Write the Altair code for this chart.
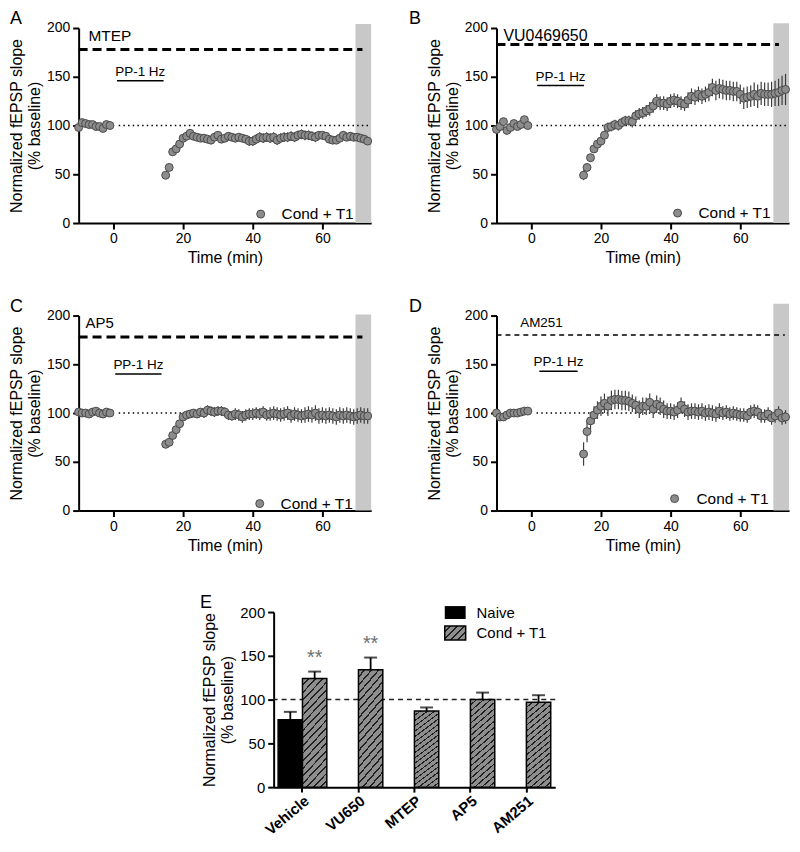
import altair as alt
import pandas as pd

FONT = "Liberation Sans"

# ---------------- data ----------------
base_time = [-10, -9, -8, -7, -6, -5, -4, -3, -2, -1]
post_time = list(range(15, 74))

a_base = [98, 103, 102, 101, 101, 99, 99, 97, 101, 100]
a_base_err = [2, 2, 2, 2, 2, 2, 2, 2, 2, 2]
a_post = [49, 57, 73, 76, 81, 87, 89, 92, 89, 88,
          87, 87, 86, 85, 88, 90, 86, 87, 89, 88,
          87, 88, 87, 86, 84, 84, 86, 88, 87, 88,
          87, 88, 85, 87, 88, 88, 89, 88, 90, 91,
          90, 90, 89, 88, 90, 90, 89, 86, 85, 85,
          87, 90, 88, 89, 88, 88, 87, 86, 84]
a_post_err = [2, 3, 3, 3, 3, 3, 3, 3, 3, 3,
              3, 3, 3, 3, 3, 3, 4, 4, 4, 4,
              4, 4, 4, 4, 5, 5, 5, 5, 5, 5,
              5, 5, 5, 5, 5, 5, 5, 5, 5, 5,
              5, 5, 5, 5, 4, 4, 4, 4, 4, 4,
              4, 4, 4, 4, 4, 4, 4, 4, 3]

b_base = [96, 99, 104, 95, 98, 102, 99, 101, 106, 100]
b_base_err = [3, 3, 3, 3, 3, 3, 3, 3, 3, 3]
b_post = [49, 57, 67, 76, 81, 84, 90, 98, 99, 101,
          100, 103, 105, 105, 104, 110, 112, 113, 115, 117,
          120, 125, 123, 123, 122, 125, 126, 125, 123, 122,
          126, 130, 129, 132, 130, 132, 134, 139, 136, 138,
          137, 136, 136, 135, 135, 132, 128, 129, 130, 132,
          130, 133, 132, 132, 132, 133, 134, 136, 137]
b_post_err = [5, 4, 4, 4, 4, 4, 5, 5, 5, 5,
              5, 5, 5, 5, 6, 6, 6, 6, 6, 7,
              7, 7, 7, 7, 7, 7, 7, 7, 7, 7,
              8, 8, 8, 8, 8, 8, 9, 9, 10, 10,
              10, 10, 10, 10, 10, 10, 11, 11, 11, 12,
              12, 12, 12, 12, 13, 13, 14, 15, 16]

c_base = [101, 100, 100, 99, 101, 102, 100, 99, 101, 100]
c_base_err = [2, 2, 2, 2, 2, 2, 2, 2, 2, 2]
c_post = [68, 70, 77, 83, 89, 96, 98, 99, 100, 99,
          101, 100, 103, 102, 101, 102, 102, 101, 98, 97,
          99, 98, 96, 98, 99, 99, 100, 99, 101, 98,
          99, 100, 99, 98, 99, 100, 97, 99, 98, 97,
          98, 99, 98, 100, 97, 98, 97, 98, 97, 96,
          98, 97, 98, 97, 96, 97, 98, 97, 97]
c_post_err = [4, 4, 4, 4, 4, 4, 4, 4, 4, 4,
              4, 5, 5, 5, 5, 5, 5, 5, 5, 5,
              6, 6, 6, 6, 6, 6, 6, 6, 6, 6,
              7, 7, 7, 7, 7, 7, 7, 7, 7, 7,
              8, 8, 8, 8, 8, 8, 8, 8, 8, 8,
              8, 8, 8, 8, 8, 8, 8, 8, 8]

d_base = [100, 96, 96, 98, 100, 100, 100, 101, 102, 102]
d_base_err = [2, 2, 2, 2, 2, 2, 2, 2, 2, 2]
d_post = [58, 81, 92, 98, 103, 107, 110, 107, 113, 114,
          114, 113, 113, 112, 110, 108, 104, 107, 107, 111,
          104, 109, 107, 104, 102, 102, 101, 103, 108, 104,
          101, 102, 102, 101, 102, 100, 101, 100, 99, 102,
          100, 101, 99, 100, 99, 98, 98, 97, 101, 102,
          101, 97, 97, 99, 95, 97, 100, 95, 96]
d_post_err = [12, 11, 9, 9, 9, 10, 10, 10, 10, 10,
              10, 10, 10, 10, 9, 9, 9, 9, 9, 9,
              9, 9, 9, 9, 8, 8, 8, 8, 8, 8,
              8, 8, 8, 8, 8, 8, 8, 8, 8, 8,
              7, 7, 7, 7, 7, 7, 7, 7, 7, 7,
              7, 7, 7, 7, 7, 7, 7, 7, 7]

e_cats = ["Vehicle", "VU650", "MTEP", "AP5", "AM251"]
e_groups = ["Naive", "Cond + T1"]
naive_mean = [77]
naive_sem = [9]
cond_mean = [124, 134, 87, 100, 97]
cond_sem = [8, 14, 4, 8, 8]
cond_sig = ["**", "**", "", "", ""]

# ---------------- styling helpers ----------------
GRAY = "#8e8e8e"
DARK = "#202020"


def hatch(x2, y2, period, frac=0.25):
    stops = []
    t = 0.0
    while t < 0.999:
        b = round(min(t + period * (1 - frac), 1.0), 4)
        c = round(min(t + period, 1.0), 4)
        stops += [{"offset": round(t, 4), "color": GRAY}, {"offset": b, "color": GRAY},
                  {"offset": b, "color": DARK}, {"offset": c, "color": DARK}]
        t += period
    return {"gradient": "linear", "x1": 0, "y1": 0, "x2": x2, "y2": y2, "stops": stops}


def panel_letter(letter, px):
    return alt.Chart(pd.DataFrame({"label": [letter]})).mark_text(
        align="left", baseline="alphabetic", fontSize=18, color="black").encode(
        x=alt.value(px), y=alt.value(-4), text="label:N")


W, H = 294, 196


def time_panel(letter, lx, drug, drug_x, drug_size, dash_y, dash_end, dash_w, dash_pat,
               pp_x0, pp_x1, pp_y, band_top, leg, base, base_err, post, post_err):
    v = base + post
    e = base_err + post_err
    df = pd.DataFrame({"t": base_time + post_time, "v": v,
                       "lo": [a - b for a, b in zip(v, e)],
                       "hi": [a + b for a, b in zip(v, e)]})
    xs = alt.Scale(domain=[-10, 74], nice=False, zero=False)
    ys = alt.Scale(domain=[0, 200], nice=False)
    xax = alt.Axis(values=[0, 20, 40, 60], title="Time (min)")
    yax = alt.Axis(values=[0, 50, 100, 150, 200], title=["Normalized fEPSP slope", "(% baseline)"])

    def X(f):
        return alt.X(f, type="quantitative", scale=xs, axis=xax)

    def Y(f):
        return alt.Y(f, type="quantitative", scale=ys, axis=yax)

    band = alt.Chart(pd.DataFrame({"t": [69.5], "t2": [74], "v": [0], "v2": [band_top]})).mark_rect(
        color="#c8c8c8").encode(x=X("t"), x2=alt.X2("t2"), y=Y("v"), y2=alt.Y2("v2"))
    dash = alt.Chart(pd.DataFrame({"t": [-10], "t2": [dash_end], "v": [dash_y]})).mark_rule(
        color="black", strokeWidth=dash_w, strokeDash=dash_pat).encode(x=X("t"), x2=alt.X2("t2"), y=Y("v"))
    dotted = alt.Chart(pd.DataFrame({"t": [1.5], "t2": [74], "v": [100]})).mark_rule(
        color="black", strokeWidth=1.5, strokeDash=[1.5, 3.2]).encode(x=X("t"), x2=alt.X2("t2"), y=Y("v"))
    ppl = alt.Chart(pd.DataFrame({"t": [pp_x0], "t2": [pp_x1], "v": [pp_y]})).mark_rule(
        color="black", strokeWidth=1.5).encode(x=X("t"), x2=alt.X2("t2"), y=Y("v"))
    ppt = alt.Chart(pd.DataFrame({"t": [(pp_x0 + pp_x1) / 2], "v": [pp_y + 2], "label": ["PP-1 Hz"]})).mark_text(
        baseline="bottom", fontSize=13.5, color="black").encode(x=X("t"), y=Y("v"), text="label:N")
    drugt = alt.Chart(pd.DataFrame({"t": [drug_x], "v": [192], "label": [drug]})).mark_text(
        align="left", baseline="middle", fontSize=drug_size, color="black").encode(x=X("t"), y=Y("v"), text="label:N")
    err = alt.Chart(df).mark_rule(color="#3c3c3c", strokeWidth=1.2).encode(x=X("t"), y=Y("lo"), y2=alt.Y2("hi"))
    pts = alt.Chart(df).mark_circle(size=64, color="#8c8c8c", stroke="#4a4a4a", strokeWidth=1,
                                    opacity=1).encode(x=X("t"), y=Y("v"))
    legdf = pd.DataFrame({"label": ["Cond + T1"]})
    legp = alt.Chart(legdf).mark_circle(size=64, color="#8c8c8c", stroke="#4a4a4a", strokeWidth=1,
                                        opacity=1).encode(x=alt.value(leg[0]), y=alt.value(leg[1]))
    legt = alt.Chart(legdf).mark_text(align="left", baseline="middle", fontSize=15.5, color="black").encode(
        x=alt.value(leg[2]), y=alt.value(leg[1]), text="label:N")
    return alt.layer(band, dash, dotted, ppl, ppt, drugt, err, pts, legp, legt,
                     panel_letter(letter, lx)).properties(width=W, height=H)


A = time_panel("A", -69, "MTEP", -7.2, 15.5, 178, 71.5, 3, [9, 5], 1.0, 14.4, 146, 204, (183, 187, 204),
               a_base, a_base_err, a_post, a_post_err)
B = time_panel("B", -88, "VU0469650", -8, 16, 183, 71.1, 3, [9, 5], 1.7, 15.1, 141, 205, (182, 186, 203),
               b_base, b_base_err, b_post, b_post_err)
C = time_panel("C", -69, "AP5", -8, 15, 178, 71.5, 3, [9, 5], 0.5, 13.8, 140, 201, (182, 189, 203),
               c_base, c_base_err, c_post, c_post_err)
D = time_panel("D", -88, "AM251", -3.2, 13.5, 180, 72.8, 1.5, [5, 4], 2.3, 13.3, 143, 212, (179, 184, 201),
               d_base, d_base_err, d_post, d_post_err)

# ---------------- panel E ----------------
rows = []
for c, m, s in zip(["Vehicle"], naive_mean, naive_sem):
    rows.append({"cat": c, "group": "Naive", "mean": m, "top": m + s, "sig": ""})
for c, m, s, g in zip(e_cats, cond_mean, cond_sem, cond_sig):
    rows.append({"cat": c, "group": "Cond + T1", "mean": m, "top": m + s, "sig": g})
df_e = pd.DataFrame(rows)

WE, HE = 283, 176
ye_scale = alt.Scale(domain=[0, 200], nice=False)
ye_axis = alt.Axis(values=[0, 50, 100, 150, 200], labelFontSize=15,
                   title=["Normalized fEPSP slope", "(% baseline)"])
xe = alt.X("cat:N", sort=e_cats, scale=alt.Scale(paddingInner=0.13, paddingOuter=0.08),
           axis=alt.Axis(title=None, labelAngle=-40, labelFontWeight="bold", labelFontSize=15,
                         labelPadding=1, tickSize=5))
xoe = alt.XOffset("group:N", sort=e_groups, scale=alt.Scale(domain=e_groups, paddingInner=0, paddingOuter=0))


def YE(f):
    return alt.Y(f, type="quantitative", scale=ye_scale, axis=ye_axis)


ref100 = alt.Chart(pd.DataFrame({"v": [100]})).mark_rule(color="#222222", strokeWidth=1.5,
                                                          strokeDash=[5, 4]).encode(y=YE("v"))
base_e = alt.Chart(df_e)
naive_bars = base_e.transform_filter("datum.group == 'Naive'").mark_bar(
    color="black", stroke="black", strokeWidth=1.5).encode(x=xe, xOffset=xoe, y=YE("mean"))
cond_bars = base_e.transform_filter("datum.group != 'Naive'").mark_bar(
    fill=hatch(0.2814, 1.1725, 0.0564), stroke="black", strokeWidth=1.5).encode(x=xe, xOffset=xoe, y=YE("mean"))
stem = base_e.mark_rule(color="black", strokeWidth=1.8).encode(x=xe, xOffset=xoe, y=YE("mean"), y2=alt.Y2("top"))
cap = base_e.mark_tick(color="black", size=13, thickness=2).encode(x=xe, xOffset=xoe, y=YE("top"))
stars = base_e.transform_filter("datum.sig != ''").mark_text(
    baseline="bottom", dy=-4, fontSize=20, color="#707070").encode(x=xe, xOffset=xoe, y=YE("top"), text="sig:N")

legn = pd.DataFrame({"label": ["Naive"]})
legc = pd.DataFrame({"label": ["Cond + T1"]})
leg_r1 = alt.Chart(legn).mark_rect(color="black").encode(
    x=alt.value(172), x2=alt.value(193), y=alt.value(-6), y2=alt.value(7))
leg_r2 = alt.Chart(legc).mark_rect(fill=hatch(1.154, 0.769, 0.2), stroke="black", strokeWidth=1.5).encode(
    x=alt.value(172), x2=alt.value(193), y=alt.value(14), y2=alt.value(28))
leg_t1 = alt.Chart(legn).mark_text(align="left", baseline="middle", fontSize=15, color="black").encode(
    x=alt.value(204), y=alt.value(0.5), text="label:N")
leg_t2 = alt.Chart(legc).mark_text(align="left", baseline="middle", fontSize=15, color="black").encode(
    x=alt.value(204), y=alt.value(21), text="label:N")

E = alt.layer(ref100, naive_bars, cond_bars, stem, cap, stars, leg_r1, leg_r2, leg_t1, leg_t2,
              panel_letter("E", -74)).properties(width=WE, height=HE)

spacer = alt.Chart(pd.DataFrame({"s": [0]})).mark_point(opacity=0).encode(
    x=alt.value(0), y=alt.value(0)).properties(width=122, height=10)

row1 = alt.hconcat(A, B, spacing=35)
row2 = alt.hconcat(C, D, spacing=35)
row3 = alt.hconcat(spacer, E, spacing=0)

chart = alt.vconcat(alt.vconcat(row1, row2, spacing=32), row3, spacing=41,
                    padding={"top": 0, "left": 0, "right": 0, "bottom": 0}).configure(
    font=FONT
).configure_view(stroke=None).configure_axis(
    grid=False, domainColor="black", domainWidth=2, tickColor="black", tickWidth=2, tickSize=6,
    labelColor="black", labelFontSize=14, labelPadding=3, labelFont=FONT,
    titleColor="black", titleFontSize=16, titleFontWeight="normal", titlePadding=4, titleFont=FONT
)

chart.save("out.html", embed_options={"renderer": "svg", "actions": False})
